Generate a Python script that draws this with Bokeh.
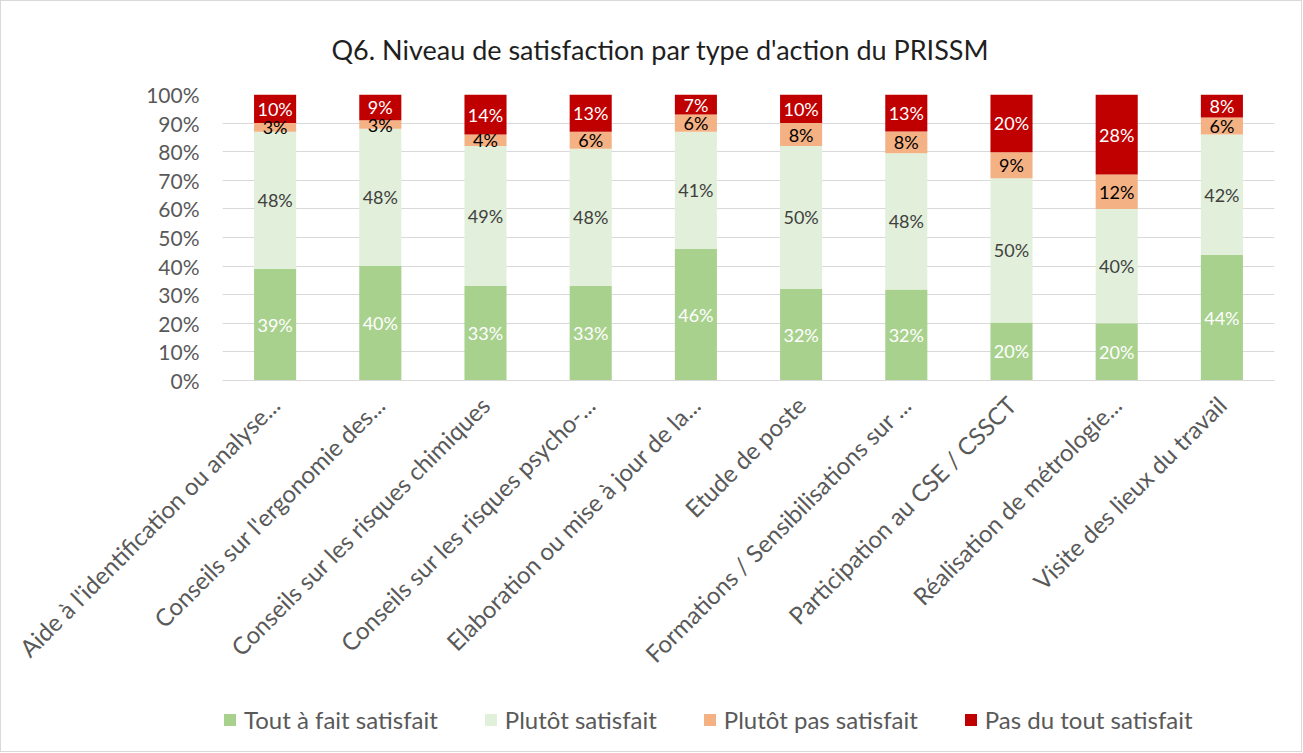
import math
from bokeh.plotting import figure
from bokeh.layouts import column
from bokeh.core.properties import value
from bokeh.models import (ColumnDataSource, FactorRange, Range1d, LabelSet, Legend,
                          LegendItem, PrintfTickFormatter, FixedTicker, Title)
from bokeh.embed import file_html
from bokeh.resources import INLINE

categories = [
    "Aide à l'identification ou analyse...",
    "Conseils sur l'ergonomie des...",
    "Conseils sur les risques chimiques",
    "Conseils sur les risques psycho-...",
    "Elaboration ou mise à jour de la...",
    "Etude de poste",
    "Formations / Sensibilisations sur ...",
    "Participation au CSE / CSSCT",
    "Réalisation de métrologie...",
    "Visite des lieux du travail",
]
tout_a_fait = [39, 40, 33, 33, 46, 32, 31.8, 20.3, 20, 44]
plutot_satisfait = [48, 48, 49, 48, 41, 50, 47.7, 50.4, 40, 42]
plutot_pas = [3, 3, 4, 6, 6, 8, 7.6, 9.1, 12, 6]
pas_du_tout = [10, 9, 14, 13, 7, 10, 12.9, 20.2, 28, 8]

series_keys = ["s1", "s2", "s3", "s4"]
series_labels = ["Tout à fait satisfait", "Plutôt satisfait", "Plutôt pas satisfait", "Pas du tout satisfait"]
series_values = [tout_a_fait, plutot_satisfait, plutot_pas, pas_du_tout]
colors = ["#A9D18E", "#E2EFDA", "#F4B183", "#C00000"]
label_colors = ["#FFFFFF", "#404040", "#000000", "#FFFFFF"]

FONT = "Lato"
W = 1300

data = {"cat": categories}
for k, v in zip(series_keys, series_values):
    data[k] = v
source = ColumnDataSource(data)

p = figure(x_range=FactorRange(*categories), y_range=Range1d(0, 100),
           width=W, height=690, output_backend="svg", toolbar_location=None,
           min_border_left=221, min_border_right=27, min_border_top=93, min_border_bottom=311)
p.outline_line_color = None

p.add_layout(Title(text="Q6. Niveau de satisfaction par type d'action du PRISSM",
                   align="left", text_font=FONT, text_font_size="27px",
                   text_font_style="normal", text_color="#1F1F1F",
                   offset=109, standoff=58), "above")

renderers = p.vbar_stack(series_keys, x="cat", width=0.4, color=colors,
                         line_color=None, source=source)

# data labels
cum = [0.0] * len(categories)
for vals, col in zip(series_values, label_colors):
    mids = [c + v / 2 for c, v in zip(cum, vals)]
    texts = [f"{round(v):d}%" for v in vals]
    cum = [c + v for c, v in zip(cum, vals)]
    src = ColumnDataSource(dict(x=categories, y=mids, t=texts))
    p.add_layout(LabelSet(x="x", y="y", text="t", source=src, text_align="center",
                          text_baseline="middle", text_font=value(FONT),
                          text_font_size=value("18px"), text_color=value(col)))

p.yaxis.ticker = FixedTicker(ticks=list(range(0, 101, 10)))
p.yaxis.formatter = PrintfTickFormatter(format="%d%%")
p.yaxis.axis_line_color = None
p.yaxis.major_tick_line_color = None
p.yaxis.minor_tick_line_color = None
p.yaxis.major_label_text_font = FONT
p.yaxis.major_label_text_font_size = "21px"
p.yaxis.major_label_text_color = "#595959"
p.yaxis.major_label_standoff = 17

p.xaxis.major_label_orientation = math.pi / 4
p.xaxis.axis_line_color = "#D9D9D9"
p.xaxis.major_tick_line_color = None
p.xaxis.minor_tick_line_color = None
p.xaxis.major_label_text_font = FONT
p.xaxis.major_label_text_font_size = "24px"
p.xaxis.major_label_text_color = "#595959"
p.xaxis.major_label_standoff = 14

p.xgrid.grid_line_color = None
p.ygrid.grid_line_color = "#D9D9D9"
p.ygrid.ticker = FixedTicker(ticks=list(range(0, 101, 10)))
p.x_range.range_padding = 0
p.x_range.group_padding = 0

# legend strip below the chart (its bars fall far outside its visible range)
lg = figure(x_range=FactorRange(*categories), y_range=Range1d(5000, 6000),
            width=W, height=60, output_backend="svg", toolbar_location=None,
            min_border_left=0, min_border_right=0, min_border_top=0, min_border_bottom=0)
lg.axis.visible = False
lg.grid.grid_line_color = None
lg.outline_line_color = None
lg_renderers = lg.vbar_stack(series_keys, x="cat", width=0.4, color=colors,
                             line_color=None, source=source)
legend = Legend(items=[LegendItem(label=l, renderers=[r]) for l, r in zip(series_labels, lg_renderers)],
                orientation="horizontal", location=(0, 17),
                label_text_font=FONT, label_text_font_size="24px", label_text_color="#595959",
                glyph_width=15, glyph_height=15, label_standoff=7, spacing=45,
                border_line_color=None, background_fill_alpha=0, padding=0, margin=0)
lg.add_layout(legend, "center")

layout = column(p, lg, spacing=0, styles={"border": "1px solid #D9D9D9"})

open("out.html", "w").write(file_html(layout, INLINE))
